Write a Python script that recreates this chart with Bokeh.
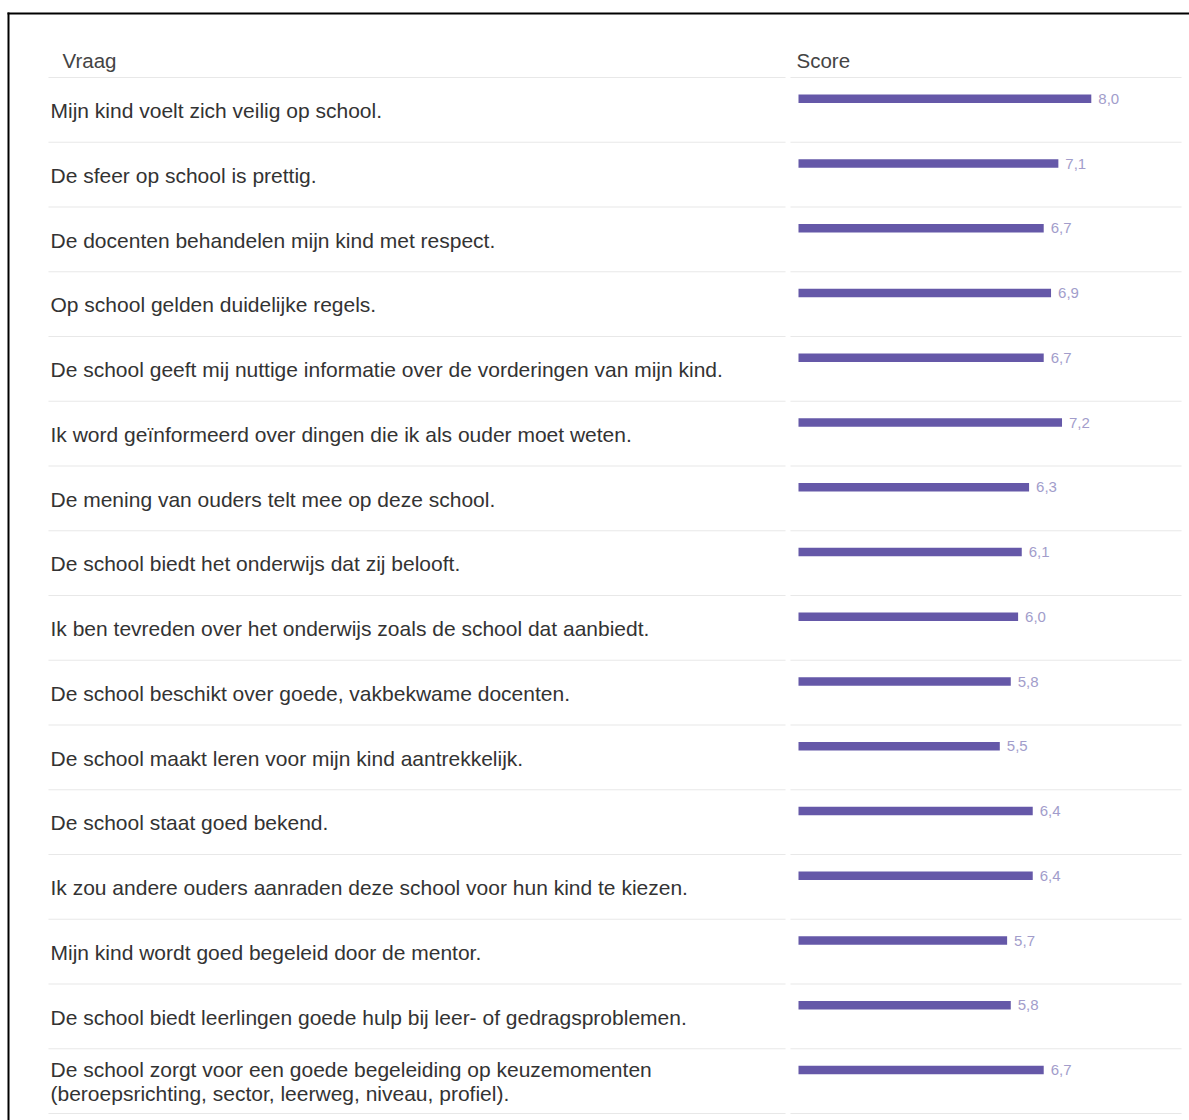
from bokeh.plotting import figure
from bokeh.models import Range1d, ColumnDataSource
from bokeh.core.properties import value
from bokeh.embed import file_html
from bokeh.resources import INLINE

header_question = "Vraag"
header_score = "Score"

questions = [
    "Mijn kind voelt zich veilig op school.",
    "De sfeer op school is prettig.",
    "De docenten behandelen mijn kind met respect.",
    "Op school gelden duidelijke regels.",
    "De school geeft mij nuttige informatie over de vorderingen van mijn kind.",
    "Ik word geïnformeerd over dingen die ik als ouder moet weten.",
    "De mening van ouders telt mee op deze school.",
    "De school biedt het onderwijs dat zij belooft.",
    "Ik ben tevreden over het onderwijs zoals de school dat aanbiedt.",
    "De school beschikt over goede, vakbekwame docenten.",
    "De school maakt leren voor mijn kind aantrekkelijk.",
    "De school staat goed bekend.",
    "Ik zou andere ouders aanraden deze school voor hun kind te kiezen.",
    "Mijn kind wordt goed begeleid door de mentor.",
    "De school biedt leerlingen goede hulp bij leer- of gedragsproblemen.",
    "De school zorgt voor een goede begeleiding op keuzemomenten\n(beroepsrichting, sector, leerweg, niveau, profiel).",
]

scores = [8.0, 7.1, 6.7, 6.9, 6.7, 7.2, 6.3, 6.1, 6.0, 5.8, 5.5, 6.4, 6.4, 5.7, 5.8, 6.7]

# ---- layout constants (pixels inside the figure) ----
W, H = 1189, 1120
PX_PER_UNIT = 36.6
BAR_X0 = 798
ROW_TOP = 77
ROW_H = 64.75
FONT = value("Liberation Sans")

n = len(questions)
labels = [f"{v:.1f}".replace(".", ",") for v in scores]
rows = list(range(n))

src = ColumnDataSource(dict(
    row=rows,
    text_y=[r + 0.51 for r in rows],
    bar_y=[r + 0.33 for r in rows],
    score=scores,
    label=labels,
    label_x=[v + 7 / PX_PER_UNIT for v in scores],
    question=questions,
))

p = figure(
    width=W, height=H,
    x_range=Range1d(-BAR_X0 / PX_PER_UNIT, (W - BAR_X0) / PX_PER_UNIT),
    y_range=Range1d((H - ROW_TOP) / ROW_H, -ROW_TOP / ROW_H),
    output_backend="svg", toolbar_location=None,
    x_axis_location=None, y_axis_location=None,
    min_border=0,
)
p.extra_x_ranges = {"px": Range1d(0, W)}
p.extra_y_ranges = {"py": Range1d(H, 0)}
p.grid.visible = False
p.outline_line_color = None
p.background_fill_color = "white"
p.border_fill_color = "white"

# row separators
seps = list(range(n + 1))
p.segment(x0=[48] * len(seps), x1=[785] * len(seps), y0=seps, y1=seps,
          x_range_name="px", line_color="#e8e8e8", line_width=1.2)
p.segment(x0=[790] * len(seps), x1=[1181] * len(seps), y0=seps, y1=seps,
          x_range_name="px", line_color="#e8e8e8", line_width=1.2)

# frame (left and top edges)
p.line(x=[8, 8], y=[12, H], x_range_name="px", y_range_name="py",
       line_color="black", line_width=2)
p.line(x=[7, W], y=[13, 13], x_range_name="px", y_range_name="py",
       line_color="black", line_width=2)

# headers
p.text(x=[62], y=[60], text=[header_question], x_range_name="px", y_range_name="py",
       text_baseline="middle", text_font=FONT, text_font_size="20.5px", text_color="#444444")
p.text(x=[796], y=[60], text=[header_score], x_range_name="px", y_range_name="py",
       text_baseline="middle", text_font=FONT, text_font_size="20.5px", text_color="#444444")

# questions
p.text(x=50, y="text_y", text="question", source=src, x_range_name="px",
       text_baseline="middle", text_font=FONT, text_font_size="21px",
       text_color="#333333", text_line_height=1.03)

# bars
p.hbar(y="bar_y", left=0, right="score", height=8.5 / ROW_H, source=src,
       fill_color="#6558a8", line_color=None)

# value labels
p.text(x="label_x", y="bar_y", text="label", source=src,
       text_baseline="middle", text_font=FONT, text_font_size="15px",
       text_color="#a29dcb")

open("out.html", "w").write(file_html(p, INLINE))
